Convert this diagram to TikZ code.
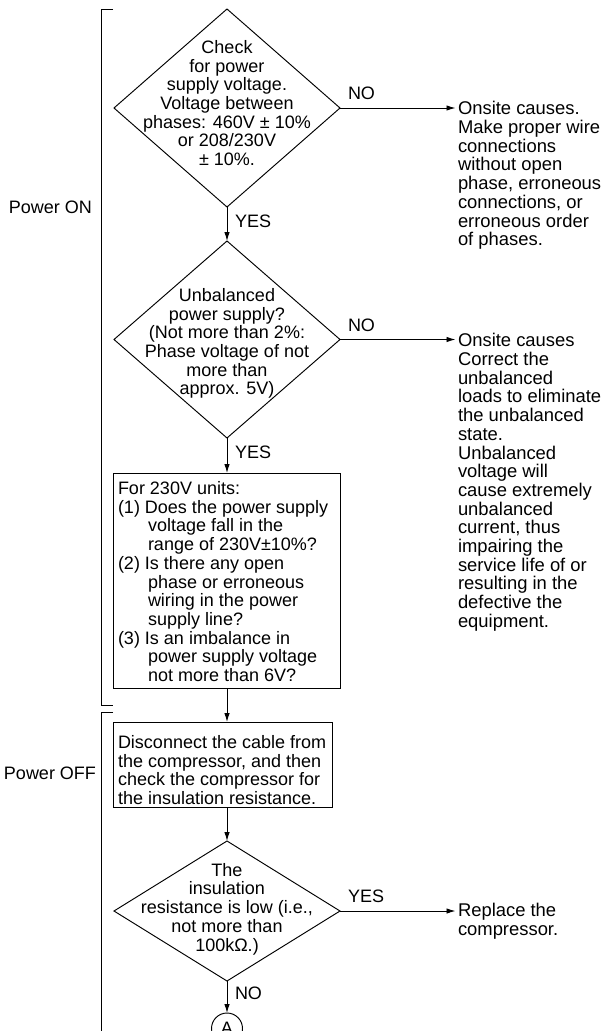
\documentclass[tikz,border=0pt]{standalone}
\usepackage{fontspec}
\setmainfont{Liberation Sans}
\usetikzlibrary{shapes.geometric,arrows.meta}
\begin{document}
\begin{tikzpicture}[x=1pt,y=-1pt,line width=0.95pt,
  txt/.style={font=\fontsize{18}{18.7}\selectfont,inner sep=0pt,outer sep=0pt,text=black},
  rtxt/.style={font=\fontsize{18.4}{18.7}\selectfont,inner sep=0pt,outer sep=0pt,text=black,align=left,anchor=north west},
  dia/.style={draw,diamond,minimum width=226pt,inner sep=0pt,outer sep=0pt},
  box/.style={draw,rectangle,inner sep=0pt,outer sep=0pt},
  arr/.style={-{Latex[length=9pt,width=5.5pt]}},
  lab/.style={txt,anchor=west}]
\useasboundingbox (0,0) rectangle (606,1031);
\clip (0,0) rectangle (606,1031);
% brackets
\draw (113,9) -- (101,9) -- (101,705) -- (113,705);
\draw (113,712) -- (101,712) -- (101,1040);
\node[txt,anchor=east] (pon) at (92,207) {Power ON};
\node[txt,anchor=east] (poff) at (96,773) {Power OFF};
% diamonds
\node[dia,minimum height=198pt] (d1) at (227,108) {};
\node[dia,minimum height=197pt] (d2) at (227,339.5) {};
\node[dia,minimum height=140pt] (d3) at (227,911) {};
\node[txt,align=center] (t1) at (227,103) {Check\\for power\\supply voltage.\\Voltage between\\phases: 460V ± 10\%\\or 208/230V\\± 10\%.};
\node[txt,align=center] (t2) at (227,343.5) {Unbalanced\\power supply?\\(Not more than 2\%:\\Phase voltage of not\\more than\\approx. 5V)};
\node[txt,align=center] (t3) at (227,909) {The\\insulation\\resistance is low (i.e.,\\not more than\\100kΩ.)};
% boxes
\node[box,minimum width=227pt,minimum height=215pt] (b1) at (227,580.5) {};
\node[txt,align=left,anchor=north west] (t4) at (118,481.5) {For 230V units:\\(1) Does the power supply\\\hspace*{30pt}voltage fall in the\\\hspace*{30pt}range of 230V±10\%?\\(2) Is there any open\\\hspace*{30pt}phase or erroneous\\\hspace*{30pt}wiring in the power\\\hspace*{30pt}supply line?\\(3) Is an imbalance in\\\hspace*{30pt}power supply voltage\\\hspace*{30pt}not more than 6V?};
\node[box,minimum width=219pt,minimum height=85pt] (b2) at (222.5,764.5) {};
\node[txt,align=left,anchor=north west] (t5) at (118,735.5) {Disconnect the cable from\\the compressor, and then\\check the compressor for\\the insulation resistance.};
% right texts
\node[rtxt] (r1) at (458,101.5) {Onsite causes.\\Make proper wire\\connections\\without open\\phase, erroneous\\connections, or\\erroneous order\\of phases.};
\node[rtxt] (r2) at (458,333.5) {Onsite causes\\Correct the\\unbalanced\\loads to eliminate\\the unbalanced\\state.\\Unbalanced\\voltage will\\cause extremely\\unbalanced\\current, thus\\impairing the\\service life of or\\resulting in the\\defective the\\equipment.};
\node[rtxt] (r3) at (458,903.5) {Replace the\\compressor.};
% connector end circle
\node[draw,circle,minimum size=31pt,inner sep=0pt,outer sep=0pt,font=\fontsize{18}{18.7}\selectfont] (A) at (227,1028.5) {A};
% connectors
\draw[arr] (d1.south) -- (d2.north) node[lab,midway,xshift=8pt,yshift=3pt] (y1) {YES};
\draw[arr,shorten >=2.5pt] (d1.east) -- (d1.east -| r1.west) node[txt,pos=0,anchor=south west,xshift=8pt,yshift=8pt] (n1) {NO};
\draw[arr,shorten >=2.5pt] (d2.east) -- (d2.east -| r2.west) node[txt,pos=0,anchor=south west,xshift=8pt,yshift=8pt] (n2) {NO};
\draw[arr] (d2.south) -- (d2.south |- b1.north) node[lab,midway,xshift=8pt,yshift=3.5pt] (y2) {YES};
\draw[arr] (b1.south) -- (b1.south |- b2.north);
\draw[arr] (d3.north |- b2.south) -- (d3.north);
\draw[arr,shorten >=2.5pt] (d3.east) -- (d3.east -| r3.west) node[txt,pos=0,anchor=south west,xshift=8pt,yshift=8.5pt] (y3) {YES};
\draw[arr] (d3.south) -- (A.north) node[lab,midway,xshift=8pt,yshift=4pt] (n3) {NO};
\end{tikzpicture}
\end{document}
